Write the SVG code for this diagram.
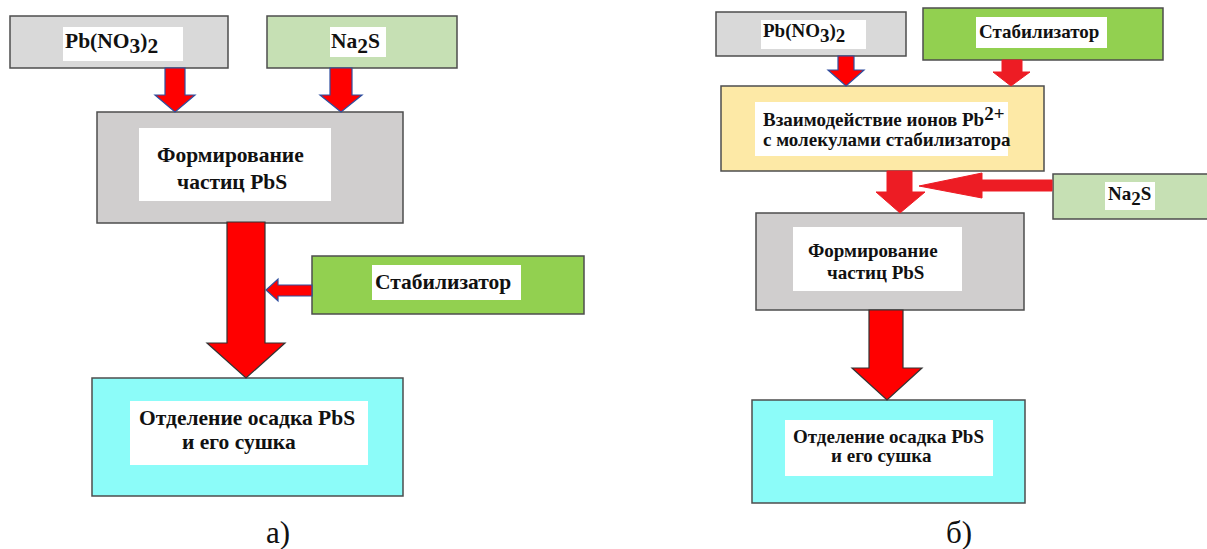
<svg xmlns="http://www.w3.org/2000/svg" width="1207" height="549" viewBox="0 0 1207 549">
<style>
.box{stroke:#4d4d4d;stroke-width:1.5}
.lbl{fill:#fff}
.t{font-family:"Liberation Serif","Times New Roman",serif;font-weight:bold;fill:#111}
.L{font-size:21.5px}
.R{font-size:19px}
.cap{font-family:"Liberation Serif","Times New Roman",serif;font-size:31px;fill:#111}
.ar{fill:#ff0000;stroke:#2f4f9f;stroke-width:1.2;stroke-linejoin:miter}
.ar2{fill:#ff0000;stroke:#333;stroke-width:1.2}
.ar3{fill:#ed1c24;stroke:#ed1c24;stroke-width:1}
</style>
<rect width="1207" height="549" fill="#fff"/>

<!-- Panel a -->
<g id="a-pbno3">
<rect class="box" x="10" y="16" width="218" height="52" fill="#d9d9d9"/>
<rect class="lbl" x="63" y="27" width="120" height="34"/>
<text class="t L" x="65" y="48">Pb(NO<tspan dy="5">3</tspan><tspan dy="-5">)</tspan><tspan dy="5">2</tspan></text>
</g>
<g id="a-na2s">
<rect class="box" x="267" y="16" width="190" height="52" fill="#c6e0b4"/>
<rect class="lbl" x="330" y="27" width="56" height="30"/>
<text class="t L" x="331" y="48">Na<tspan dy="5">2</tspan><tspan dy="-5">S</tspan></text>
</g>
<g id="a-form">
<rect class="box" x="97" y="112" width="306" height="111" fill="#d0cece"/>
<rect class="lbl" x="139" y="128" width="192" height="73"/>
<text class="t L" x="157" y="162">Формирование</text>
<text class="t L" x="177" y="189">частиц PbS</text>
</g>
<g id="a-stab">
<rect class="box" x="312" y="256" width="272" height="58" fill="#92d050"/>
<rect class="lbl" x="372" y="265" width="149" height="35"/>
<text class="t L" x="375" y="289">Стабилизатор</text>
</g>
<g id="a-sep">
<rect class="box" x="92" y="378" width="311" height="118" fill="#8cfcf9"/>
<rect class="lbl" x="130" y="401" width="238" height="64"/>
<text class="t L" x="139" y="425">Отделение осадка PbS</text>
<text class="t L" x="182" y="449">и его сушка</text>
</g>
<text class="cap" x="266" y="543">а)</text>

<g id="a-connectors">
<path class="ar" d="M165,68 H185 V95 H195 L175,112 L155,95 H165 Z"/>
<path class="ar" d="M330,68 H352 V95 H362 L341,112 L320,95 H330 Z"/>
<path class="ar2" d="M227,222 H265 V343 H285 L246,378 L207,343 H227 Z"/>
<path class="ar" d="M312,285 V296 H278 V301 L266,290 L278,279 V285 Z"/>
</g>

<!-- Panel b -->
<g id="b-pbno3">
<rect class="box" x="716" y="12" width="190" height="44" fill="#d9d9d9"/>
<rect class="lbl" x="761" y="20" width="105" height="29"/>
<text class="t R" x="763" y="37">Pb(NO<tspan dy="5">3</tspan><tspan dy="-5">)</tspan><tspan dy="5">2</tspan></text>
</g>
<g id="b-stab">
<rect class="box" x="923" y="8" width="240" height="52" fill="#92d050"/>
<rect class="lbl" x="976" y="17" width="131" height="31"/>
<text class="t R" x="979" y="38">Стабилизатор</text>
</g>
<g id="b-inter">
<rect class="box" x="721" y="86" width="323" height="85" fill="#fde9a6"/>
<rect class="lbl" x="755" y="102" width="253" height="54"/>
<text class="t R" x="763" y="126">Взаимодействие ионов Pb<tspan dy="-6">2+</tspan></text>
<text class="t R" x="763" y="146">с молекулами стабилизатора</text>
</g>
<g id="b-na2s">
<rect class="box" x="1053" y="174" width="160" height="45" fill="#c6e0b4"/>
<rect class="lbl" x="1105" y="182" width="50" height="28"/>
<text class="t R" x="1108" y="200">Na<tspan dy="5">2</tspan><tspan dy="-5">S</tspan></text>
</g>
<g id="b-form">
<rect class="box" x="756" y="213" width="268" height="97" fill="#d0cece"/>
<rect class="lbl" x="793" y="227" width="169" height="64"/>
<text class="t R" x="808" y="257">Формирование</text>
<text class="t R" x="827" y="279">частиц PbS</text>
</g>
<g id="b-sep">
<rect class="box" x="752" y="400" width="273" height="103" fill="#8cfcf9"/>
<rect class="lbl" x="785" y="420" width="208" height="56"/>
<text class="t R" x="793" y="443">Отделение осадка PbS</text>
<text class="t R" x="831" y="462">и его сушка</text>
</g>
<text class="cap" x="946" y="543">б)</text>

<g id="b-connectors">
<path class="ar" d="M838,56 H854 V70 H864 L846,86 L828,70 H838 Z"/>
<path class="ar3" d="M1002,60 H1022 V72 H1030 L1011,86 L993,72 H1002 Z"/>
<path class="ar3" d="M887,171 H912 V192 H925 L900,213 L876,192 H887 Z"/>
<path class="ar3" d="M1052,180 V191 H982 V198 L919,186 L982,173 V180 Z"/>
<path class="ar2" d="M869,310 H903 V368 H922 L887,400 L852,368 H869 Z"/>
</g>
</svg>
